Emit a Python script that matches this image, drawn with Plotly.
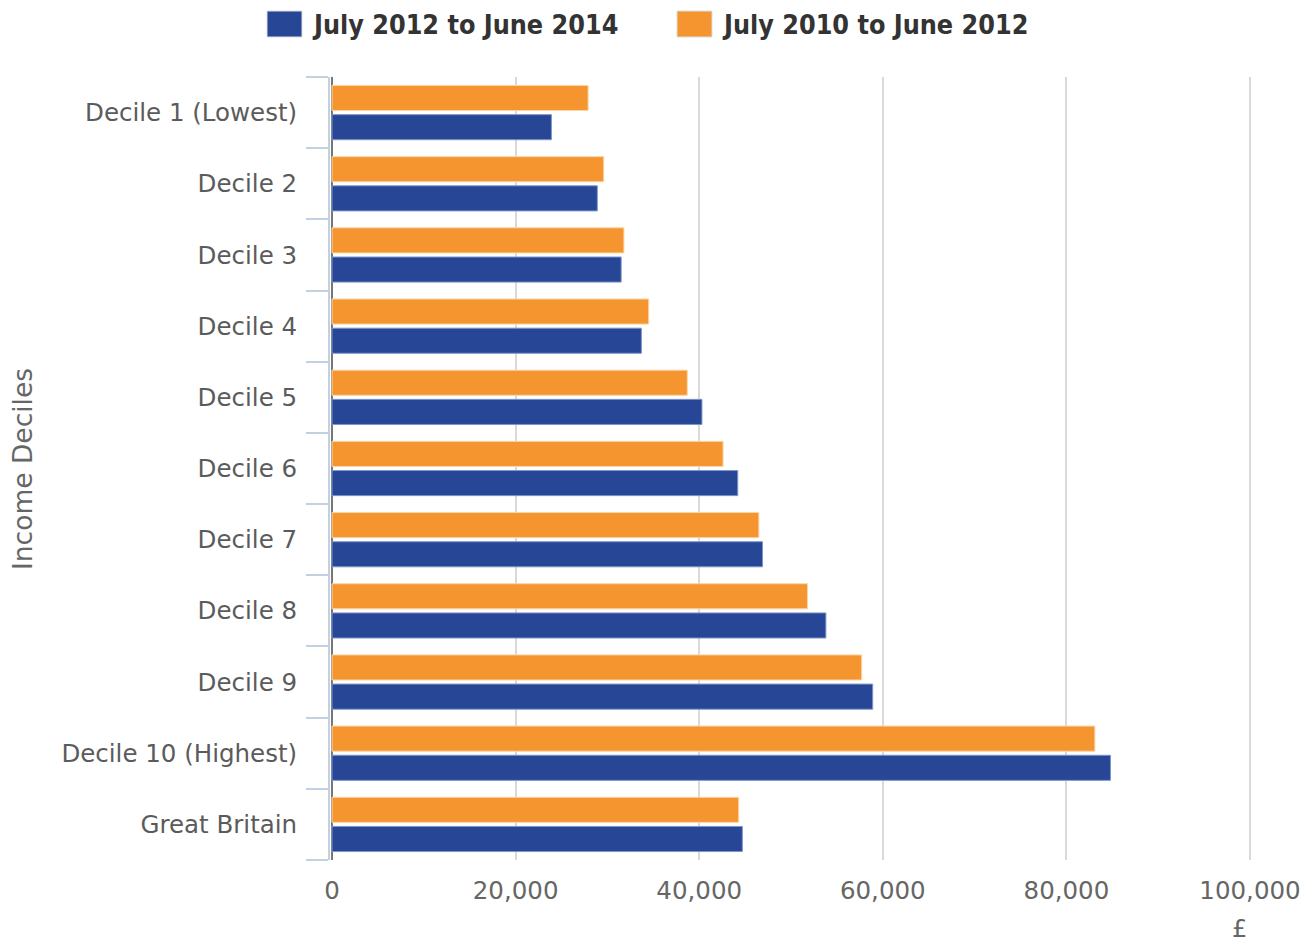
import plotly.graph_objects as go

# Median household disposable income by income decile, £
deciles = [
    "Decile 1 (Lowest)", "Decile 2", "Decile 3", "Decile 4", "Decile 5",
    "Decile 6", "Decile 7", "Decile 8", "Decile 9", "Decile 10 (Highest)",
    "Great Britain",
]
period_2012_2014 = [23900, 28900, 31500, 33700, 40300, 44200, 46900, 53800, 58900, 84800, 44700]
period_2010_2012 = [27900, 29600, 31800, 34500, 38700, 42600, 46500, 51800, 57700, 83100, 44300]

series_names = ["July 2012 to June 2014", "July 2010 to June 2012"]
blue = "#274796"
orange = "#F5952F"

x_ticks = [0, 20000, 40000, 60000, 80000, 100000]
x_tick_text = ["0", "20,000", "40,000", "60,000", "80,000", "100,000"]

W, H = 1314, 944
L, R, T, B = 330, 60, 77, 84
pw, ph = W - L - R, H - T - B


def px_x(px):
    return (px - L) / pw


def px_y(py):
    return 1 - (py - T) / ph


fig = go.Figure()
fig.add_trace(go.Bar(
    y=deciles, x=period_2012_2014, orientation="h", name=series_names[0],
    marker=dict(color=blue, line=dict(color="#7f95c9", width=1)),
    showlegend=False,
))
fig.add_trace(go.Bar(
    y=deciles, x=period_2010_2012, orientation="h", name=series_names[1],
    marker=dict(color=orange, line=dict(color="#fcd5a8", width=1)),
    showlegend=False,
))

axis_blue = "#c3d0e0"
fig.update_layout(
    width=W, height=H,
    margin=dict(l=L, r=R, t=T, b=B, pad=0),
    paper_bgcolor="white", plot_bgcolor="white",
    barmode="group", bargap=0.18, bargroupgap=0.14,
    showlegend=False,
    font=dict(family="DejaVu Sans", color="#5b5b5b", size=24),
    xaxis=dict(
        range=[-218, 100436],
        tickvals=x_ticks, ticktext=x_tick_text,
        showgrid=True, gridcolor="#d9d9d9", gridwidth=2,
        zeroline=True, zerolinecolor="#777777", zerolinewidth=2,
        showline=False, ticks="",
        tickfont=dict(family="DejaVu Sans", size=24.5, color="#666666"),
        ticklabelstandoff=13,
    ),
    yaxis=dict(
        categoryorder="array", categoryarray=deciles[::-1],
        tickson="boundaries", ticks="outside", ticklen=22,
        tickcolor=axis_blue, tickwidth=2,
        showline=True, linecolor=axis_blue, linewidth=2,
        showgrid=False,
        tickfont=dict(family="DejaVu Sans", size=24.5, color="#5b5b5b"),
        ticklabelstandoff=26,
    ),
)

# Legend drawn as swatches with labels across the top
legend_items = [
    (267, 302, 310, blue, series_names[0]),
    (677, 712, 720, orange, series_names[1]),
]
for x0, x1, tx, color, label in legend_items:
    fig.add_shape(type="rect", xref="paper", yref="paper",
                  x0=px_x(x0), x1=px_x(x1), y0=px_y(37), y1=px_y(11),
                  fillcolor=color, line=dict(color="#dddddd", width=1))
    fig.add_annotation(xref="paper", yref="paper", x=px_x(tx), y=px_y(24),
                       xanchor="left", yanchor="middle", showarrow=False,
                       text="<b>" + label + "</b>",
                       font=dict(family="DejaVu Sans Condensed", size=26.7, color="#333333"))

# Axis titles
fig.add_annotation(xref="paper", yref="paper", x=px_x(22), y=px_y(469),
                   text="Income Deciles", textangle=-90, showarrow=False,
                   xanchor="center", yanchor="middle",
                   font=dict(family="DejaVu Sans", size=26.5, color="#666666"))
fig.add_annotation(xref="paper", yref="paper", x=px_x(1239), y=px_y(929),
                   text="£", showarrow=False, xanchor="center", yanchor="middle",
                   font=dict(family="DejaVu Sans", size=24, color="#666666"))

fig.write_html("out.html")
